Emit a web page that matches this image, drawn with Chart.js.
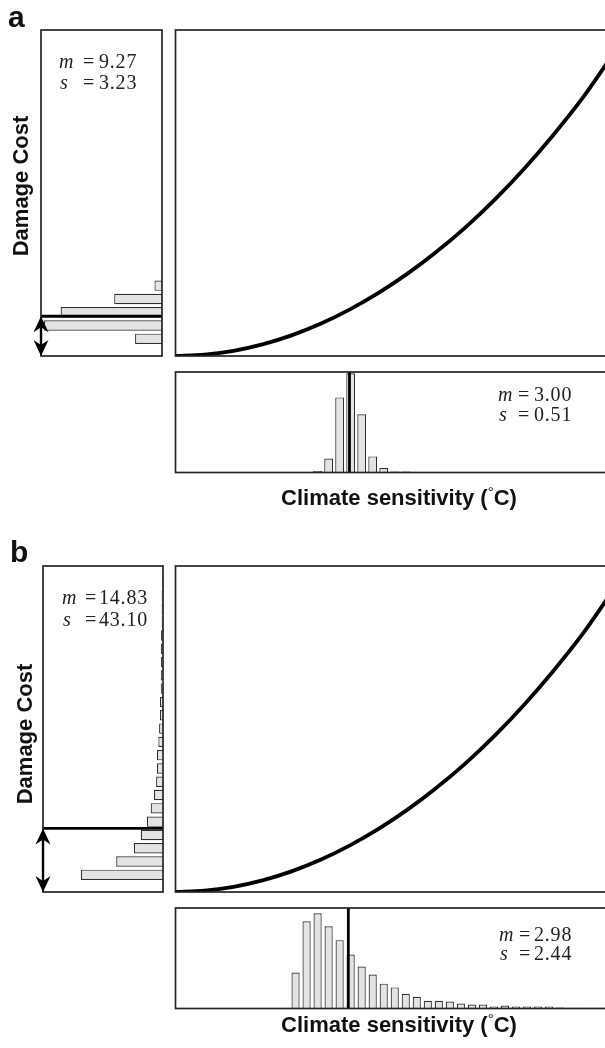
<!DOCTYPE html>
<html>
<head>
<meta charset="utf-8">
<script src="https://cdn.jsdelivr.net/npm/chart.js@4.4.1/dist/chart.umd.min.js"></script>
<style>
html,body{margin:0;padding:0;background:#fff;overflow:hidden;width:605px;height:1048px;}
canvas{position:absolute;}
#txt{position:absolute;left:0;top:0;pointer-events:none;}
</style>
</head>
<body>
<canvas id="leftA"></canvas>
<canvas id="mainA"></canvas>
<canvas id="botA"></canvas>
<canvas id="leftB"></canvas>
<canvas id="mainB"></canvas>
<canvas id="botB"></canvas>
<svg id="txt" width="605" height="1048" xmlns="http://www.w3.org/2000/svg"></svg>
<script>
// ---------- data ----------
const panelLabels = ['a', 'b'];
const yAxisTitle = 'Damage Cost';
const xAxisTitle = 'Climate sensitivity (';
const xAxisUnit = 'C)';

// damage function (main panels): climate sensitivity (°C) -> damage cost
const climateT = [0, 0.5, 1, 1.5, 2, 2.5, 3, 3.5, 4, 4.5, 5, 5.5, 6, 6.5, 7, 7.5, 8];
const damageCurve = [0, 0.3, 1.2, 2.7, 4.8, 7.5, 10.8, 14.7, 19.2, 24.3, 30.0, 36.4, 43.5, 51.3, 59.8, 69.5, 79.5];

// damage-cost histograms (left panels), bin centres and relative frequency (%)
const damageBins = [4.0, 7.1, 10.2, 13.3, 16.4, 19.5, 22.6, 25.7, 28.8, 31.9, 35.0, 38.1,
                    41.2, 44.3, 47.4, 50.5, 53.6, 56.7, 59.8, 62.9, 66.0, 69.1, 72.2, 75.3];
const damageFreqA = [8.9, 39.0, 33.5, 15.8, 2.5];
const damageFreqB = [27.4, 15.6, 9.7, 7.4, 5.4, 4.1, 3.0, 2.3, 2.0, 2.0, 1.55, 1.3,
                     1.0, 1.0, 0.75, 0.75, 0.65, 0.65, 0.65, 0.45, 0.45, 0.45, 0.25, 0.25];

// climate-sensitivity histograms (bottom panels)
const sensBinsA = [2.45, 2.64, 2.83, 3.02, 3.21, 3.40, 3.59, 3.78, 3.97];
const sensFreqA = [0.6, 5.6, 29.9, 39.5, 23.2, 6.4, 1.8, 0.4, 0.4];
const sensBinsB = [2.07, 2.26, 2.45, 2.64, 2.83, 3.02, 3.21, 3.40, 3.59, 3.78, 3.97, 4.16,
                   4.35, 4.54, 4.73, 4.92, 5.11, 5.30, 5.49, 5.68, 5.87, 6.06, 6.25, 6.44,
                   6.63, 6.82, 7.01, 7.20, 7.39, 7.58, 7.77, 7.96];
const sensFreqB = [14.3, 34.7, 37.9, 32.7, 27.2, 21.5, 16.7, 13.5, 9.9, 8.4, 5.9, 4.7,
                   3.1, 3.1, 2.8, 2.0, 1.6, 1.6, 0.8, 1.2, 0.8, 0.8, 0.8, 0.8,
                   0.4, 0.3, 0.3, 0.3, 0.3, 0.3, 0.3, 0.3];

// summary statistics
const damageStatsA = [9.27, 3.23];   // mean, sd
const damageStatsB = [14.83, 43.10];
const sensStatsA = [3.00, 0.51];
const sensStatsB = [2.98, 2.44];

// axis ranges
const tRange = [0, 8];
const damageRange = [0, 76];
const damageFreqMax = 40;
const sensFreqMax = 40;

// ---------- helpers ----------
const P = 16;
function place(id, left, top, width, height) {
  const c = document.getElementById(id);
  const cl = Math.floor(left) - P, ct = Math.floor(top) - P;
  const cw = Math.ceil(left + width) + P - cl, ch = Math.ceil(top + height) + P - ct;
  c.style.left = cl + 'px'; c.style.top = ct + 'px';
  c.width = cw; c.height = ch;
  c.style.width = cw + 'px'; c.style.height = ch + 'px';
  return { left: left - cl, top: top - ct, right: cw - (left - cl) - width, bottom: ch - (top - ct) - height };
}

const framePlugin = {
  id: 'frame',
  afterDatasetsDraw(chart) {
    const { ctx, chartArea: a } = chart;
    ctx.save();
    ctx.strokeStyle = '#262626';
    ctx.lineWidth = 1.7;
    ctx.strokeRect(a.left, a.top, a.right - a.left, a.bottom - a.top);
    ctx.restore();
  }
};

const arrowPlugin = {
  id: 'arrow',
  afterDraw(chart, args, opts) {
    if (opts == null || opts.value == null) return;
    const { ctx, chartArea: a } = chart;
    const ys = chart.scales.y;
    const x = a.left;
    const yTop = ys.getPixelForValue(opts.value);
    const yBot = ys.getPixelForValue(0);
    const hl = 16, hw = 7.5, notch = 5;
    ctx.save();
    ctx.strokeStyle = '#000'; ctx.fillStyle = '#000'; ctx.lineWidth = 2.4;
    ctx.beginPath(); ctx.moveTo(x, yTop + hl - notch); ctx.lineTo(x, yBot - hl + notch); ctx.stroke();
    function head(tipY, dir) {
      ctx.beginPath();
      ctx.moveTo(x, tipY);
      ctx.lineTo(x - hw, tipY + dir * hl);
      ctx.lineTo(x, tipY + dir * (hl - notch));
      ctx.lineTo(x + hw, tipY + dir * hl);
      ctx.closePath();
      ctx.fill();
    }
    head(yTop, 1);
    head(yBot, -1);
    ctx.restore();
  }
};

function common(padding) {
  return {
    responsive: false, animation: false, events: [],
    layout: { padding },
    plugins: { legend: { display: false }, tooltip: { enabled: false } }
  };
}

const barFill = '#e3e3e3', barEdge = '#2f2f2f';

function mainChart(id, area) {
  const pad = place(id, area[0], area[1], area[2], area[3]);
  const opts = common(pad);
  opts.scales = {
    x: { type: 'linear', min: tRange[0], max: tRange[1], display: false },
    y: { type: 'linear', min: damageRange[0], max: damageRange[1], display: false }
  };
  return new Chart(document.getElementById(id), {
    type: 'line',
    data: { datasets: [{
      data: climateT.map((t, i) => ({ x: t, y: damageCurve[i] })),
      borderColor: '#000', borderWidth: 3.8, pointRadius: 0,
      cubicInterpolationMode: 'monotone', fill: false
    }] },
    options: opts,
    plugins: [framePlugin]
  });
}

function leftChart(id, area, freq, stats) {
  const pad = place(id, area[0], area[1], area[2], area[3]);
  const opts = common(pad);
  opts.indexAxis = 'y';
  opts.scales = {
    y: { type: 'linear', min: damageRange[0], max: damageRange[1], offset: false, display: false },
    x: { type: 'linear', min: 0, max: damageFreqMax, reverse: true, offset: false, display: false }
  };
  opts.plugins.arrow = { value: stats[0] };
  return new Chart(document.getElementById(id), {
    type: 'bar',
    data: { datasets: [
      { type: 'line', data: [{ x: 0, y: stats[0] }, { x: damageFreqMax, y: stats[0] }],
        borderColor: '#000', borderWidth: 2.8, pointRadius: 0, order: 0 },
      { type: 'bar', data: freq.map((f, i) => ({ x: f, y: damageBins[i] })),
        backgroundColor: barFill, borderColor: barEdge, borderWidth: 1.2,
        barPercentage: 0.78, categoryPercentage: 1, order: 1 }
    ] },
    options: opts,
    plugins: [framePlugin, arrowPlugin]
  });
}

function bottomChart(id, area, bins, freq, stats, pct) {
  const pad = place(id, area[0], area[1], area[2], area[3]);
  const opts = common(pad);
  opts.scales = {
    x: { type: 'linear', min: tRange[0], max: tRange[1], offset: false, display: false },
    y: { type: 'linear', min: 0, max: sensFreqMax, display: false }
  };
  return new Chart(document.getElementById(id), {
    type: 'bar',
    data: { datasets: [
      { type: 'line', data: [{ x: stats[0], y: 0 }, { x: stats[0], y: sensFreqMax }],
        borderColor: '#000', borderWidth: 2.8, pointRadius: 0, order: 0 },
      { type: 'bar', data: freq.map((f, i) => ({ x: bins[i], y: f })),
        backgroundColor: barFill, borderColor: barEdge, borderWidth: 1.2,
        barPercentage: pct, categoryPercentage: 1, order: 1 }
    ] },
    options: opts,
    plugins: [framePlugin]
  });
}

// ---------- charts ----------
leftChart('leftA', [41, 30, 121, 326], damageFreqA, damageStatsA);
mainChart('mainA', [175.5, 30, 464, 326]);
bottomChart('botA', [175.5, 372, 464, 100.5], sensBinsA, sensFreqA, sensStatsA, 0.8);

leftChart('leftB', [43, 566, 120, 326], damageFreqB, damageStatsB);
mainChart('mainB', [175.5, 566, 464, 326]);
bottomChart('botB', [175.5, 908, 464, 100.5], sensBinsB, sensFreqB, sensStatsB, 0.74);

// ---------- text ----------
const NS = 'http://www.w3.org/2000/svg';
const svg = document.getElementById('txt');
function t(x, y, str, attrs) {
  const e = document.createElementNS(NS, 'text');
  e.setAttribute('x', x); e.setAttribute('y', y);
  for (const k in attrs) e.setAttribute(k, attrs[k]);
  e.textContent = str;
  svg.appendChild(e);
  return e;
}
const SANS = "'Liberation Sans', Arial, Helvetica, sans-serif";
const SERIF = "'Liberation Serif', 'Times New Roman', Times, serif";

function statBlock(x0, xEq, xVal, y1, y2, stats) {
  const base = { 'font-family': SERIF, 'font-size': 20, fill: '#222' };
  t(x0, y1, 'm', Object.assign({ 'font-style': 'italic' }, base));
  t(xEq, y1, '=', base);
  t(xVal, y1, stats[0].toFixed(2), Object.assign({ 'letter-spacing': 0.8 }, base));
  t(x0 + 1, y2, 's', Object.assign({ 'font-style': 'italic' }, base));
  t(xEq, y2, '=', base);
  t(xVal, y2, stats[1].toFixed(2), Object.assign({ 'letter-spacing': 0.8 }, base));
}

function xTitle(cx, y) {
  const e = t(cx, y, xAxisTitle, { 'font-family': SANS, 'font-size': 22, 'font-weight': 'bold',
    'text-anchor': 'middle', fill: '#111' });
  const d = document.createElementNS(NS, 'tspan');
  d.setAttribute('dy', -8); d.setAttribute('font-size', 15); d.setAttribute('font-weight', 'normal');
  d.textContent = '\u00B0';
  e.appendChild(d);
  const c = document.createElementNS(NS, 'tspan');
  c.setAttribute('dy', 8);
  c.textContent = xAxisUnit;
  e.appendChild(c);
}

function yTitle(x, cy) {
  t(0, 0, yAxisTitle, { 'font-family': SANS, 'font-size': 22, 'font-weight': 'bold',
    'text-anchor': 'middle', fill: '#111', transform: `translate(${x},${cy}) rotate(-90)` });
}

// panel a
t(8, 27, panelLabels[0], { 'font-family': SANS, 'font-size': 30, 'font-weight': 'bold', fill: '#111' });
yTitle(28, 186);
statBlock(59, 83, 99, 68, 89, damageStatsA);
statBlock(498, 518, 534, 401, 421, sensStatsA);
xTitle(399, 505);

// panel b
t(10, 562, panelLabels[1], { 'font-family': SANS, 'font-size': 30, 'font-weight': 'bold', fill: '#111' });
yTitle(31.5, 734);
statBlock(62, 85, 99, 604, 626, damageStatsB);
statBlock(499, 519, 534, 941, 960, sensStatsB);
xTitle(399, 1032);
</script>
</body>
</html>
